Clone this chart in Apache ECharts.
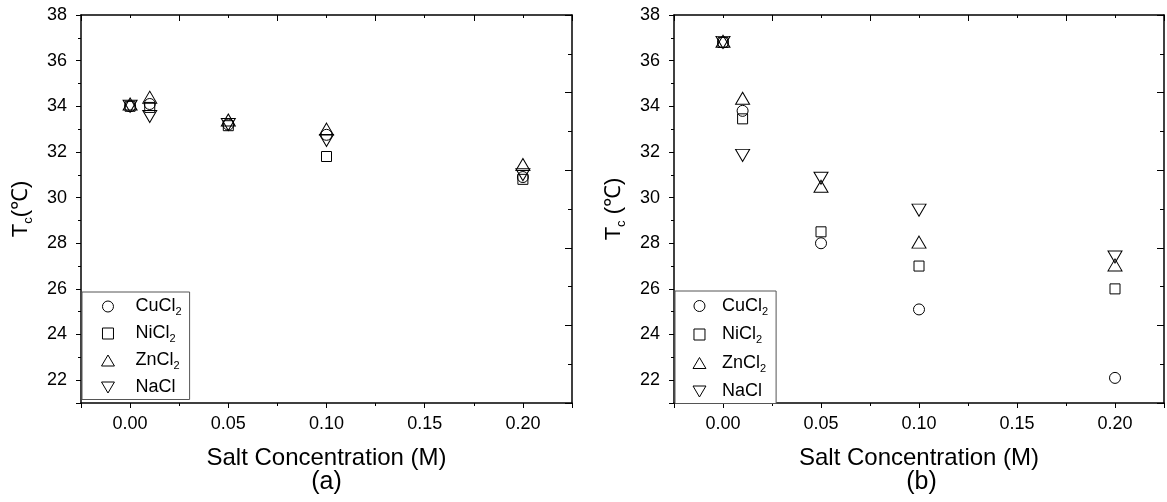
<!DOCTYPE html>
<html>
<head>
<meta charset="utf-8">
<style>
  html, body { margin: 0; padding: 0; background: #fff; }
  #chart { width: 1167px; height: 502px; }
</style>
<script src="https://cdn.jsdelivr.net/npm/echarts@6/dist/echarts.min.js"></script>
</head>
<body>
<div id="chart"></div>
<script>
// Salt concentration (M) at which each transition temperature was measured
const conc = [0, 0.01, 0.05, 0.10, 0.20];

// Panel (a): Tc (°C)
const cuA = [34.0, 34.1, 33.2, 32.75, 30.9];
const niA = [34.0, 33.95, 33.15, 31.8, 30.8];
const znA = [34.1, 34.4, 33.4, 33.0, 31.45];
const naA = [34.0, 33.55, 33.2, 32.5, 31.0];

// Panel (b): Tc (°C)
const cuB = [36.8, 33.8, 28.0, 25.1, 22.1];
const niB = [36.8, 33.45, 28.5, 27.0, 26.0];
const znB = [36.85, 34.35, 30.5, 28.05, 27.05];
const naB = [36.8, 31.85, 30.85, 29.45, 27.4];

const salts = ['CuCl2', 'NiCl2', 'ZnCl2', 'NaCl'];
const panelLabels = ['(a)', '(b)'];

const FONT = "'Liberation Sans', Arial, sans-serif";

const symbols = {
  CuCl2: { symbol: 'circle', size: 11 },
  NiCl2: { symbol: 'path://M0,0 L1,0 L1,1 L0,1 Z', size: 10 },
  ZnCl2: { symbol: 'path://M1,0 L2,1.7 L0,1.7 Z', size: [14, 12] },
  NaCl:  { symbol: 'path://M0,0 L2,0 L1,1.7 Z', size: [14, 12] }
};

const grids = [
  { left: 81, top: 15, width: 491, height: 388 },
  { left: 674, top: 15, width: 495, height: 388 }
];

function isMultiple(v, step) {
  return Math.abs(Math.round(v / step) * step - v) < 1e-7;
}

const frameLine = { show: true, onZero: false, lineStyle: { color: '#000', width: 1.5 } };
const noLine = { show: false, onZero: false };

const xAxes = [];
const yAxes = [];
grids.forEach((g, gi) => {
  // bottom axis: labelled ticks every 0.05
  xAxes.push({
    type: 'value', gridIndex: gi, position: 'bottom',
    min: -0.025, max: 0.225, minInterval: 0.05, maxInterval: 0.05,
    name: 'Salt Concentration (M)', nameLocation: 'middle', nameGap: 43,
    nameTextStyle: { fontFamily: FONT, fontSize: 24, color: '#000' },
    axisLine: frameLine,
    axisTick: { show: true, inside: false, length: 5, lineStyle: { color: '#000', width: 1 } },
    axisLabel: {
      margin: 12, fontFamily: FONT, fontSize: 18, color: '#000',
      formatter: v => isMultiple(v, 0.05) ? v.toFixed(2) : ''
    },
    splitLine: { show: false }
  });
  // bottom axis: minor ticks every 0.025
  xAxes.push({
    type: 'value', gridIndex: gi, position: 'bottom',
    min: -0.025, max: 0.225, interval: 0.025,
    axisLine: noLine,
    axisTick: { show: true, inside: false, length: 3, lineStyle: { color: '#000', width: 1 } },
    axisLabel: { show: false }, splitLine: { show: false }
  });
  // top frame axis
  xAxes.push({
    type: 'value', gridIndex: gi, position: 'top',
    min: -0.025, max: 0.225, interval: 0.05,
    axisLine: frameLine,
    axisTick: { show: true, inside: true, length: 6, lineStyle: { color: '#000', width: 1 } },
    minorTick: { show: true, splitNumber: 2, length: 3, lineStyle: { color: '#000', width: 1 } },
    axisLabel: { show: false }, splitLine: { show: false }, minorSplitLine: { show: false }
  });

  // left axis: labelled ticks every 2 °C
  yAxes.push({
    type: 'value', gridIndex: gi, position: 'left',
    min: 21, max: 38, minInterval: 2, maxInterval: 2,
    name: gi === 0 ? '{t|T}{s|c}{t|(℃)}' : '{t|T}{s|c}{t| (℃)}',
    nameLocation: 'middle', nameGap: 46, nameRotate: 90,
    nameTextStyle: {
      fontFamily: FONT, color: '#000',
      rich: {
        t: { fontFamily: FONT, fontSize: 22, color: '#000', lineHeight: 28 },
        s: { fontFamily: FONT, fontSize: 13, color: '#000', lineHeight: 10, verticalAlign: 'bottom' }
      }
    },
    axisLine: frameLine,
    axisTick: { show: true, inside: false, length: 5, lineStyle: { color: '#000', width: 1 } },
    axisLabel: {
      margin: 14, fontFamily: FONT, fontSize: 18, color: '#000',
      formatter: v => isMultiple(v, 2) ? String(Math.round(v)) : ''
    },
    splitLine: { show: false }
  });
  // left axis: minor ticks every 1 °C
  yAxes.push({
    type: 'value', gridIndex: gi, position: 'left',
    min: 21, max: 38, interval: 1,
    axisLine: noLine,
    axisTick: { show: true, inside: false, length: 3, lineStyle: { color: '#000', width: 1 } },
    axisLabel: { show: false }, splitLine: { show: false }
  });
  // right frame axis
  yAxes.push({
    type: 'value', gridIndex: gi, position: 'right',
    min: 0, max: 10, interval: 2,
    axisLine: frameLine,
    axisTick: { show: true, inside: true, length: 7, lineStyle: { color: '#000', width: 1 } },
    minorTick: { show: true, splitNumber: 2, length: 4, lineStyle: { color: '#000', width: 1 } },
    axisLabel: { show: false }, splitLine: { show: false }, minorSplitLine: { show: false }
  });
});

const panelData = [
  { CuCl2: cuA, NiCl2: niA, ZnCl2: znA, NaCl: naA },
  { CuCl2: cuB, NiCl2: niB, ZnCl2: znB, NaCl: naB }
];

const markerStyle = { color: 'rgba(255,255,255,0)', borderColor: '#000', borderWidth: 1, opacity: 1 };

const series = [];
panelData.forEach((pd, gi) => {
  salts.forEach(name => {
    series.push({
      type: 'scatter', name,
      xAxisIndex: gi * 3, yAxisIndex: gi * 3,
      symbol: symbols[name].symbol,
      symbolSize: symbols[name].size,
      itemStyle: markerStyle,
      emphasis: { disabled: true },
      data: conc.map((c, i) => [c, pd[name][i]]),
      z: 5
    });
  });
});

function saltLabel(name) {
  const m = name.match(/^(.*?)(\d)$/);
  return m ? '{n|' + m[1] + '}{s|' + m[2] + '}' : '{n|' + name + '}';
}

const legendRich = {
  n: { fontFamily: FONT, fontSize: 18, color: '#000', lineHeight: 22 },
  s: { fontFamily: FONT, fontSize: 11, color: '#000', lineHeight: 9, verticalAlign: 'bottom' }
};

const legends = [
  { left: 82, top: 292, itemWidth: 45, itemGap: 7, padding: [5.5, 8, 3, 19] },
  { left: 675, top: 291, itemWidth: 35, itemGap: 8.5, padding: [6, 8, 3, 17.5] }
].map(l => Object.assign({
  orient: 'vertical', data: salts, itemHeight: 11,
  borderColor: '#555', borderWidth: 1, backgroundColor: '#fff',
  selectedMode: false, inactiveColor: '#000',
  itemStyle: { color: 'rgba(255,255,255,0)', borderColor: '#000', borderWidth: 1 },
  formatter: saltLabel,
  textStyle: { fontFamily: FONT, color: '#000', rich: legendRich },
  z: 10
}, l));

const graphic = grids.map((g, gi) => ({
  type: 'text',
  x: g.left + 0.125 / 0.25 * g.width,
  y: 482,
  style: {
    text: panelLabels[gi], fontFamily: FONT, fontSize: 25, fill: '#000',
    align: 'center', verticalAlign: 'middle', textAlign: 'center', textVerticalAlign: 'middle'
  }
}));

const chart = echarts.init(document.getElementById('chart'));
chart.setOption({
  animation: false,
  backgroundColor: '#fff',
  grid: grids,
  xAxis: xAxes,
  yAxis: yAxes,
  legend: legends,
  series,
  graphic
});
</script>
</body>
</html>
